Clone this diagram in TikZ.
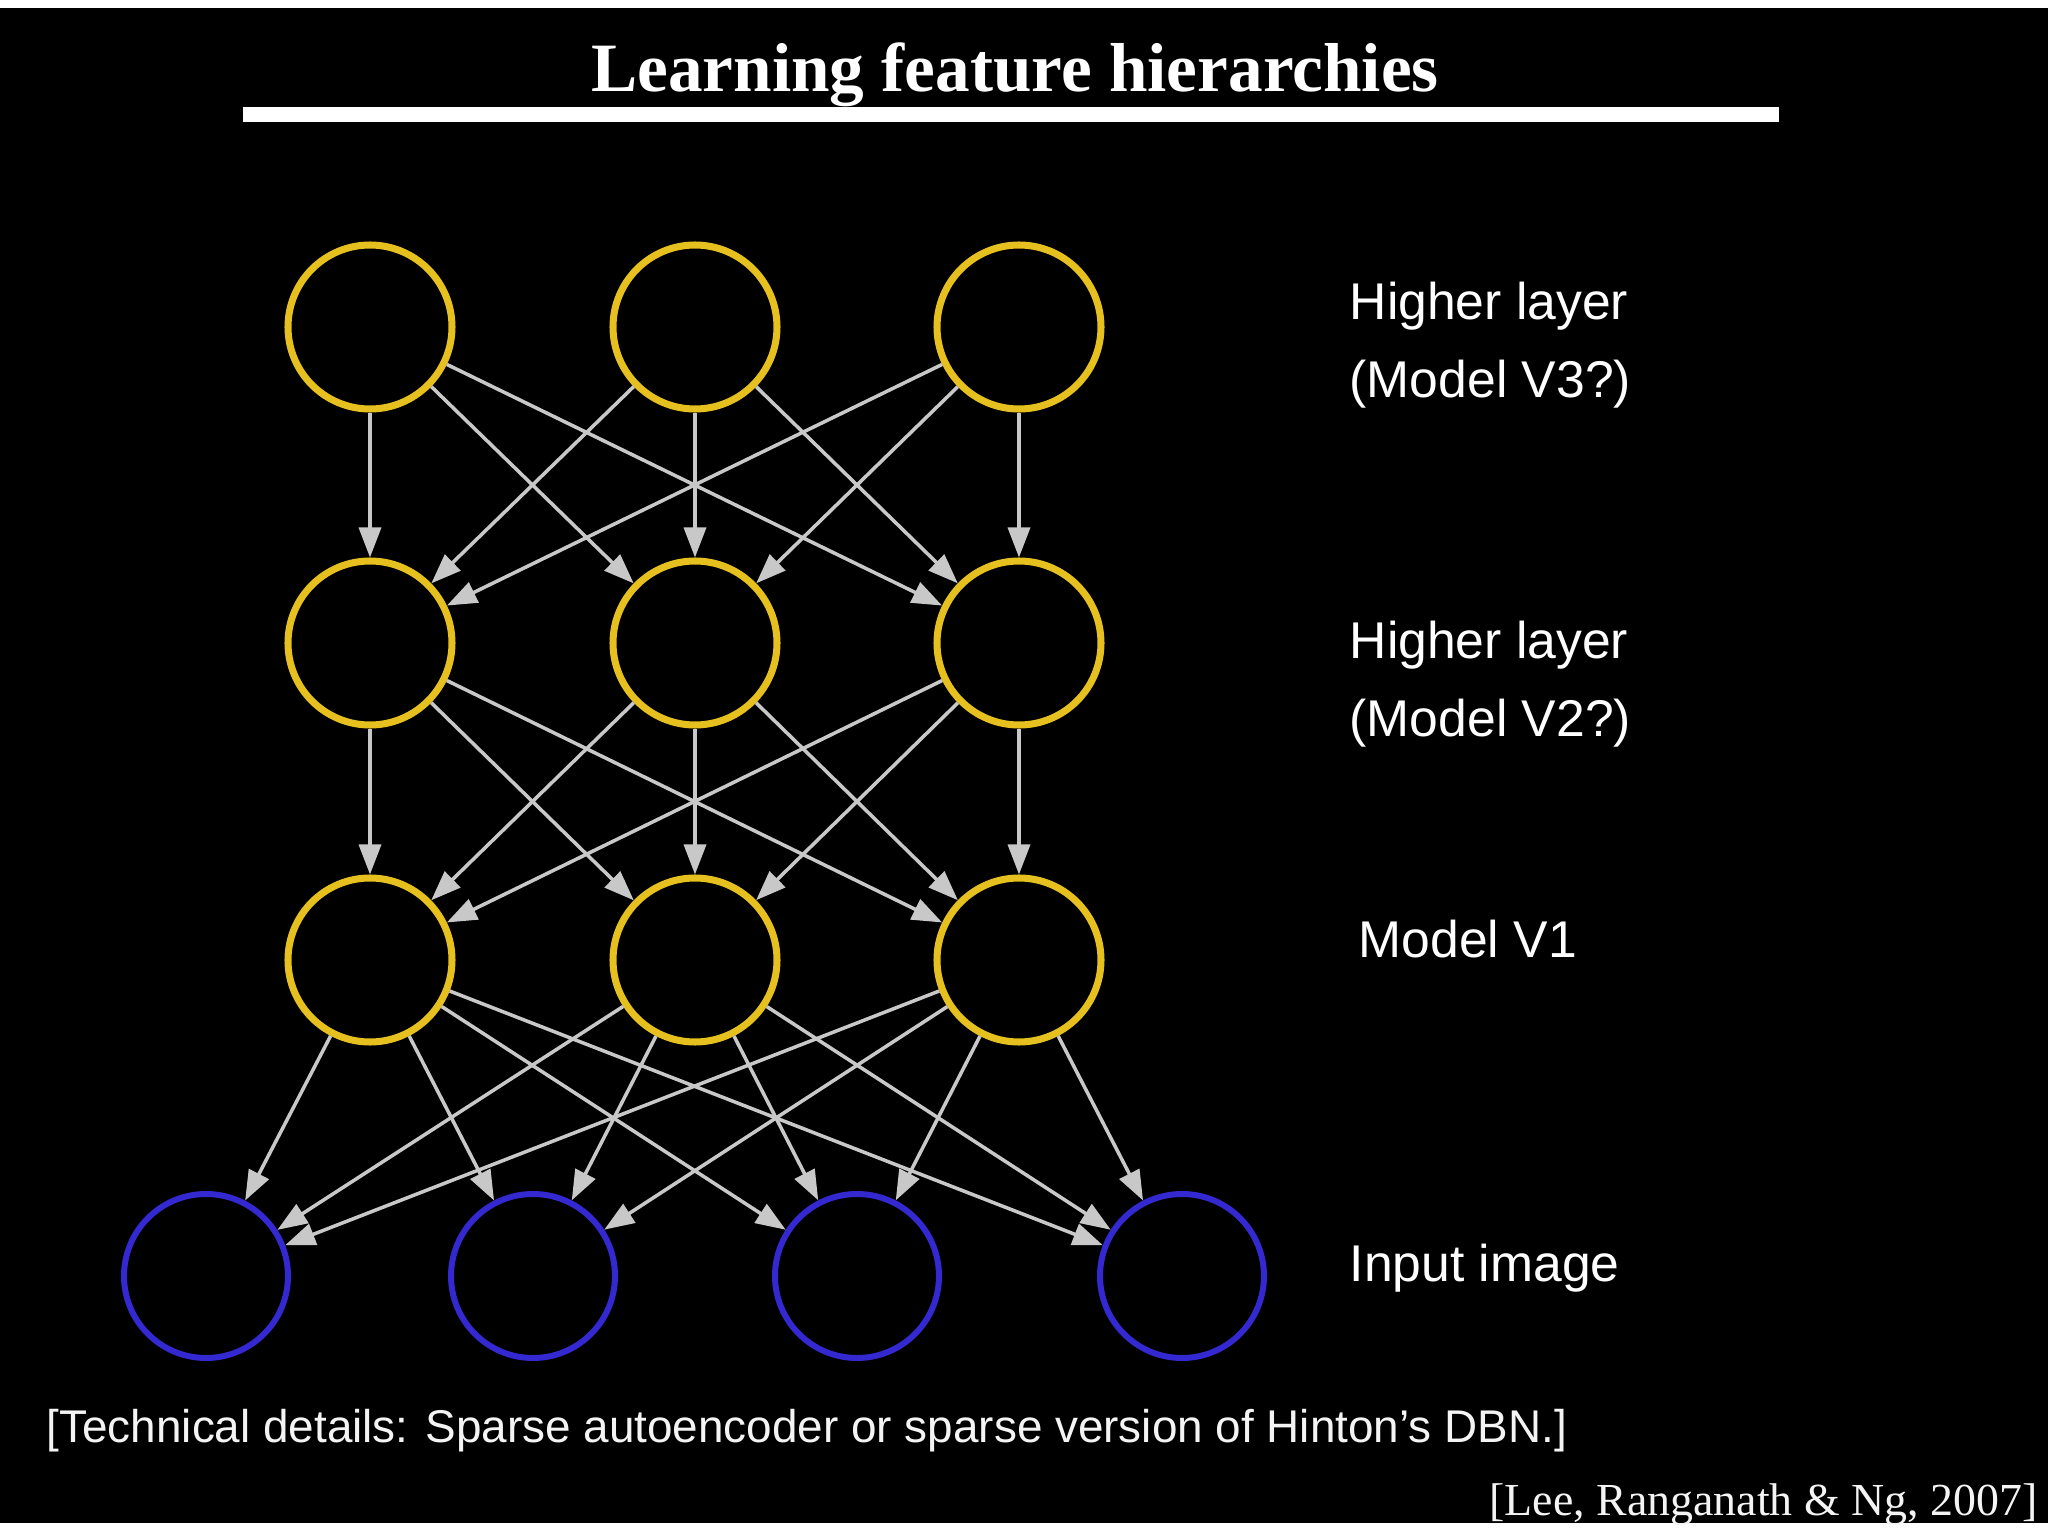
\documentclass[tikz,border=0pt]{standalone}
\usepackage{fontspec}
\setmainfont{Liberation Serif}
\setsansfont{Liberation Sans}
\usetikzlibrary{arrows.meta}
\definecolor{fhyellow}{HTML}{E6C01E}
\definecolor{fhblue}{HTML}{3428D0}
\definecolor{fhgrey}{HTML}{C8C8C8}
\definecolor{fhtext}{HTML}{F4F4F4}
\tikzset{
  unit/.style      = {circle, draw=fhyellow, line width=2pt, inner sep=0pt,
                      minimum size=1.64cm},
  inunit/.style    = {unit, draw=fhblue, line width=1.7pt},
  %
  wire/.style      = {-{Triangle[length=3.0mm,width=2.2mm]}, draw=fhgrey,
                      line width=1pt},
  %
  layerlbl/.style  = {anchor=base west, align=left, inner sep=0pt, text=white,
                      font=\sffamily\fontsize{14.7}{22.3}\selectfont},
  headline/.style  = {anchor=base, inner sep=0pt, text=white,
                      font=\rmfamily\bfseries\fontsize{19.7}{23}\selectfont},
  footline/.style  = {anchor=base west, inner sep=0pt, text=fhtext,
                      font=\sffamily\fontsize{13.05}{16}\selectfont},
  citeline/.style  = {anchor=base east, inner sep=0pt, text=fhtext,
                      font=\rmfamily\fontsize{13.05}{16}\selectfont},
}

\begin{document}
\begin{tikzpicture}

  % ---------- page --------------------------------------------------------
  \useasboundingbox (0,0) rectangle (20.48,-15.36);
  \fill[white] (0,0) rectangle (20.48,-15.36);
  \fill[black] (0,-0.08) rectangle (20.48,-15.23);

  \node[headline] (title) at (10.15,-0.92) {Learning feature hierarchies};
  \fill[white] (2.43,-1.07) rectangle (17.79,-1.22);

  % ---------- units -------------------------------------------------------
  \node[unit] (u1) at ( 3.70, -3.27) {};
  \node[unit] (u2) at ( 6.95, -3.27) {};
  \node[unit] (u3) at (10.19, -3.27) {};

  \node[unit] (w1) at ( 3.70, -6.43) {};
  \node[unit] (w2) at ( 6.95, -6.43) {};
  \node[unit] (w3) at (10.19, -6.43) {};

  \node[unit] (v1) at ( 3.70, -9.60) {};
  \node[unit] (v2) at ( 6.95, -9.60) {};
  \node[unit] (v3) at (10.19, -9.60) {};

  \node[inunit] (x1) at ( 2.06,-12.76) {};
  \node[inunit] (x2) at ( 5.33,-12.76) {};
  \node[inunit] (x3) at ( 8.57,-12.76) {};
  \node[inunit] (x4) at (11.82,-12.76) {};

  % ---------- labels (base = last line) -----------------------------------
  \node[layerlbl] (l3) at (13.49, -3.98) {Higher layer\\(Model V3?)};
  \node[layerlbl] (l2) at (13.49, -7.37) {Higher layer\\(Model V2?)};
  \node[layerlbl] (l1) at (13.58, -9.58) {Model V1};
  \node[layerlbl] (l0) at (13.49,-12.81) {Input image};

  % ---------- connectors --------------------------------------------------
  \draw[wire] (u1) -- (w1);
  \draw[wire] (u1) -- (w2);
  \draw[wire] (u1) -- (w3);
  \draw[wire] (u2) -- (w1);
  \draw[wire] (u2) -- (w2);
  \draw[wire] (u2) -- (w3);
  \draw[wire] (u3) -- (w1);
  \draw[wire] (u3) -- (w2);
  \draw[wire] (u3) -- (w3);

  \draw[wire] (w1) -- (v1);
  \draw[wire] (w1) -- (v2);
  \draw[wire] (w1) -- (v3);
  \draw[wire] (w2) -- (v1);
  \draw[wire] (w2) -- (v2);
  \draw[wire] (w2) -- (v3);
  \draw[wire] (w3) -- (v1);
  \draw[wire] (w3) -- (v2);
  \draw[wire] (w3) -- (v3);

  \draw[wire] (v1) -- (x1);
  \draw[wire] (v1) -- (x2);
  \draw[wire] (v1) -- (x3);
  \draw[wire] (v1) -- (x4);
  \draw[wire] (v2) -- (x1);
  \draw[wire] (v2) -- (x2);
  \draw[wire] (v2) -- (x3);
  \draw[wire] (v2) -- (x4);
  \draw[wire] (v3) -- (x1);
  \draw[wire] (v3) -- (x2);
  \draw[wire] (v3) -- (x3);
  \draw[wire] (v3) -- (x4);

  % ---------- footer ------------------------------------------------------
  \node[footline] (tech) at (0.46,-14.42)
    {[Technical details: Sparse autoencoder or sparse version of Hinton’s DBN.]};
  \node[citeline] (cite) at (20.38,-15.15) {[Lee, Ranganath \& Ng, 2007]};

\end{tikzpicture}
\end{document}
